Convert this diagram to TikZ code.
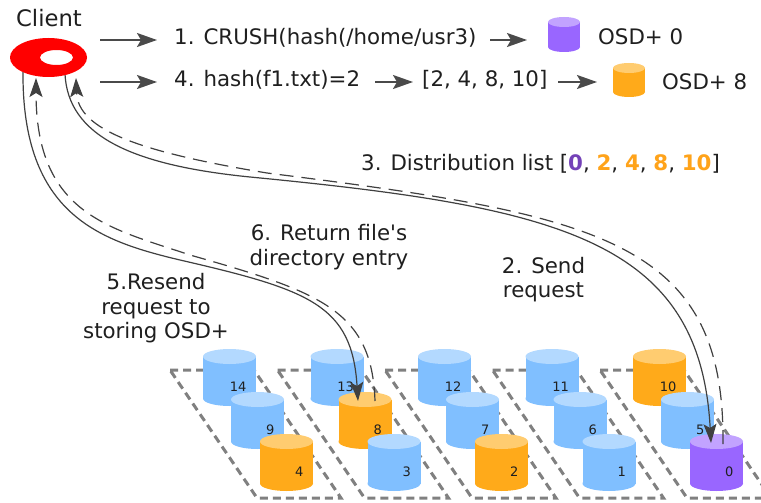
\documentclass[tikz,border=0pt]{standalone}
\usepackage{fontspec}
\setmainfont{DejaVu Sans}
\usetikzlibrary{arrows.meta}

\definecolor{bluebody}{HTML}{80BFFF}
\definecolor{bluecap}{HTML}{B3D9FF}
\definecolor{orangebody}{HTML}{FFAA1A}
\definecolor{orangecap}{HTML}{FFCC70}
\definecolor{purplebody}{HTML}{9966FF}
\definecolor{purplecap}{HTML}{C2A3FF}
\definecolor{purpletext}{HTML}{7442B8}
\definecolor{orangetext}{HTML}{FFA31A}
\definecolor{ink}{HTML}{1F1F1F}
\definecolor{wire}{HTML}{404040}
\definecolor{pointer}{HTML}{4A4A4A}
\definecolor{traygray}{HTML}{808080}
\definecolor{clientred}{HTML}{FF0000}

\tikzset{
  lbl/.style={inner sep=0pt, text=ink, font=\fontsize{21.33}{24.5}\selectfont},
  numlbl/.style={inner sep=0pt, text=ink, font=\fontsize{13}{15}\selectfont, anchor=base east},
  pointer/.style={draw=pointer, line width=1.8pt, -{Stealth[length=20pt,width=14pt,inset=4pt]}},
  flow/.style={draw=wire, line width=1.2pt},
  flowtip/.style={-{Stealth[length=19pt,width=13pt,inset=4pt]}},
  backflow/.style={flow, dash pattern=on 14pt off 8pt},
  tray/.style={draw=traygray, line width=3pt, dash pattern=on 8pt off 5pt},
}

% cylinder: x0, top y, width, height, cap radius, body colour, cap colour
\newcommand\osdcyl[7]{%
  \fill[#6] (#1,#2+#5) rectangle (#1+#3,#2+#4-#5);
  \fill[#6] (#1+#3/2,#2+#4-#5) ellipse[x radius=#3/2,y radius=#5];
  \fill[#7] (#1+#3/2,#2+#5) ellipse[x radius=#3/2,y radius=#5];
}
% storage cylinder in the grid: name, x0, top y, number, colour family
\newcommand\gridosd[5]{%
  \osdcyl{#2}{#3}{53}{57}{7.5}{#5body}{#5cap}
  \node[numlbl] (#1) at (#2+43.5,#3+42.5) {#4};
}

\begin{document}
\begin{tikzpicture}[x=1pt,y=-1pt]
\fill[white] (0,0) rectangle (761,503);
\useasboundingbox (0,0) rectangle (761,503);

% dashed trays
\begin{scope}
\clip (0,0) rectangle (761,503);
\foreach \i in {0,...,4}
  \draw[tray] ({170+107.5*\i},370) -- ({254+107.5*\i},370) -- ({341+107.5*\i},498) -- ({257+107.5*\i},498) -- cycle;
\end{scope}

% storage grid, back row to front row
\gridosd{osd14}{203}{349}{14}{blue}
\gridosd{osd9}{231}{392}{9}{blue}
\gridosd{osd4}{260}{434}{4}{orange}
\gridosd{osd13}{310.5}{349}{13}{blue}
\gridosd{osd8}{338.5}{392}{8}{orange}
\gridosd{osd3}{367.5}{434}{3}{blue}
\gridosd{osd12}{418}{349}{12}{blue}
\gridosd{osd7}{446}{392}{7}{blue}
\gridosd{osd2}{475}{434}{2}{orange}
\gridosd{osd11}{525.5}{349}{11}{blue}
\gridosd{osd6}{553.5}{392}{6}{blue}
\gridosd{osd1}{582.5}{434}{1}{blue}
\gridosd{osd10}{633}{349}{10}{orange}
\gridosd{osd5}{661}{392}{5}{blue}
\gridosd{osd0}{690}{434}{0}{purple}

% connector ends
\coordinate (cl-a) at (23,72);
\coordinate (cl-b) at (36,78);
\coordinate (cl-c) at (65,74);
\coordinate (cl-d) at (76,78);
\coordinate (osd8-in) at (358,401);
\coordinate (osd8-out) at (375,401);
\coordinate (osd0-in) at (711,443);
\coordinate (osd0-out) at (723,444);

% requests from the client
\draw[flow, flowtip]
  (cl-a) .. controls (22,215) and (100,241) .. (180,260)
         .. controls (310,290) and (352,305) .. (osd8-in);
\draw[flow, flowtip]
  (cl-c) .. controls (68,135) and (130,165) .. (250,177)
         .. controls (560,207) and (700,240) .. (osd0-in);
% replies back to the client
\draw[backflow, flowtip]
  (osd8-out) .. controls (372,310) and (320,292) .. (190,255)
             .. controls (110,228) and (36,215) .. (cl-b);
\draw[backflow, flowtip]
  (osd0-out) .. controls (725,240) and (600,215) .. (267,173)
             .. controls (140,152) and (78,130) .. (cl-d);

% client ring
\coordinate (client) at (48.5,57.5);
\fill[clientred, even odd rule] (client) ellipse[x radius=38.5,y radius=19.5]
  (56.5,57.5) ellipse[x radius=16.5,y radius=7.5];
\node[inner sep=0pt, text=ink, font=\fontsize{22.7}{27}\selectfont, anchor=base] (clientlbl) at (49,27) {Client};

% lookup rows
\coordinate (r1a) at (100,40); \coordinate (r1b) at (157,40);
\coordinate (r1c) at (490,40); \coordinate (r1d) at (527,40);
\coordinate (r2a) at (100,82); \coordinate (r2b) at (157,82);
\coordinate (r2c) at (375,82); \coordinate (r2d) at (413,82);
\coordinate (r2e) at (558,82); \coordinate (r2f) at (597,82);
\draw[pointer] (r1a) -- (r1b);
\draw[pointer] (r1c) -- (r1d);
\draw[pointer] (r2a) -- (r2b);
\draw[pointer] (r2c) -- (r2d);
\draw[pointer] (r2e) -- (r2f);

\node[lbl, anchor=base west] (step1) at (174,45) {1. CRUSH(hash(/home/usr3)};
\osdcyl{548}{17}{32}{35}{5}{purplebody}{purplecap}
\node[lbl, anchor=base west] (osd0txt) at (598,45) {OSD+ 0};
\node[lbl, anchor=base west] (step4) at (174,87) {4. hash(f1.txt)=2};
\node[lbl, anchor=base west] (list) at (422,87) {[2, 4, 8, 10]};
\osdcyl{613}{63}{32}{34}{5}{orangebody}{orangecap}
\node[lbl, anchor=base west] (osd8txt) at (662,90) {OSD+ 8};

\node[lbl, anchor=base west] (step3) at (361,170) {3. Distribution list [\textbf{\textcolor{purpletext}{0}}, \textbf{\textcolor{orangetext}{2}}, \textbf{\textcolor{orangetext}{4}}, \textbf{\textcolor{orangetext}{8}}, \textbf{\textcolor{orangetext}{10}}]};
\node[lbl, align=center] (step6) at (329,247) {6. Return file\textquotesingle s\\directory entry};
\node[lbl, align=center] (step2) at (543.5,279.5) {2. Send\\request};
\node[lbl, align=center] (step5) at (156,308.5) {5.Resend\\request to\\storing OSD+};
\end{tikzpicture}
\end{document}
